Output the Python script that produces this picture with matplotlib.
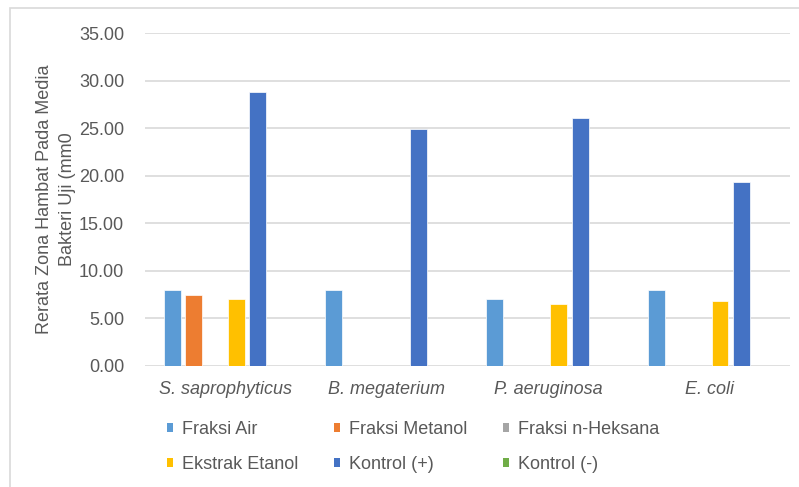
import numpy as np
import matplotlib
matplotlib.use('Agg')
import matplotlib.pyplot as plt
from matplotlib.patches import Rectangle, Patch

plt.rcParams['font.family'] = ['Liberation Sans', 'DejaVu Sans']

# data
bakteri = ['S. saprophyticus', 'B. megaterium', 'P. aeruginosa', 'E. coli']
fraksi_air = [8.0, 8.0, 7.0, 8.0]
fraksi_metanol = [7.5, 0, 0, 0]
fraksi_heksana = [0, 0, 0, 0]
ekstrak_etanol = [7.0, 0, 6.5, 6.8]
kontrol_pos = [28.8, 24.9, 26.1, 19.3]
kontrol_neg = [0, 0, 0, 0]
y_ticks = [0, 5, 10, 15, 20, 25, 30, 35]

series = [
    ('Fraksi Air', fraksi_air, '#5B9BD5'),
    ('Fraksi Metanol', fraksi_metanol, '#ED7D31'),
    ('Fraksi n-Heksana', fraksi_heksana, '#A5A5A5'),
    ('Ekstrak Etanol', ekstrak_etanol, '#FFC000'),
    ('Kontrol (+)', kontrol_pos, '#4472C4'),
    ('Kontrol (-)', kontrol_neg, '#70AD47'),
]

txt = '#595959'
fs = 13

fig = plt.figure(figsize=(7.99, 4.87), dpi=100)
# light frame around the chart area
fig.patches.append(Rectangle((10 / 799, -0.05), 1.2, 1 - 8 / 487 + 0.05,
                             transform=fig.transFigure, fill=False,
                             edgecolor='#d9d9d9', linewidth=1.2))

ax = fig.add_axes([145 / 799, 1 - 366 / 487, 645 / 799, 333 / 487])

x = np.arange(len(bakteri))
pitch = 0.132
w = 0.105
for j, (name, vals, col) in enumerate(series):
    ax.bar(x + (j - 2.5) * pitch, vals, w, color=col, edgecolor='white',
           linewidth=0.5, zorder=3, label=name)

ax.set_xlim(-0.5, len(bakteri) - 0.5)
ax.set_ylim(0, 35)
ax.set_yticks(y_ticks)
ax.set_yticklabels(['{:.2f}'.format(v) for v in y_ticks], fontsize=fs, color=txt)
ax.set_xticks(x)
ax.set_xticklabels(bakteri, fontsize=fs, color=txt, style='italic')
ax.tick_params(axis='both', length=0)
ax.tick_params(axis='y', pad=15)
ax.tick_params(axis='x', pad=11)
ax.grid(axis='y', color='#d9d9d9', linewidth=1.2, zorder=0)
for s in ax.spines.values():
    s.set_visible(False)

ax.set_ylabel('Rerata Zona Hambat Pada Media\nBakteri Uji (mm0', fontsize=fs,
              color=txt, labelpad=2, linespacing=1.5)

# legend laid out row by row like the original
order = [0, 3, 1, 4, 2, 5]
handles = [Patch(facecolor=series[i][2]) for i in order]
labels = [series[i][0] for i in order]
fig.legend(handles, labels, ncol=3, loc='upper left',
           bbox_to_anchor=(167 / 799, 1 - 421 / 487), frameon=False,
           fontsize=fs, labelcolor=txt, handlelength=0.35, handleheight=0.35,
           handletextpad=0.5, columnspacing=1.95, labelspacing=1.0,
           borderpad=0, borderaxespad=0)

fig.savefig('out.png', dpi=100)
